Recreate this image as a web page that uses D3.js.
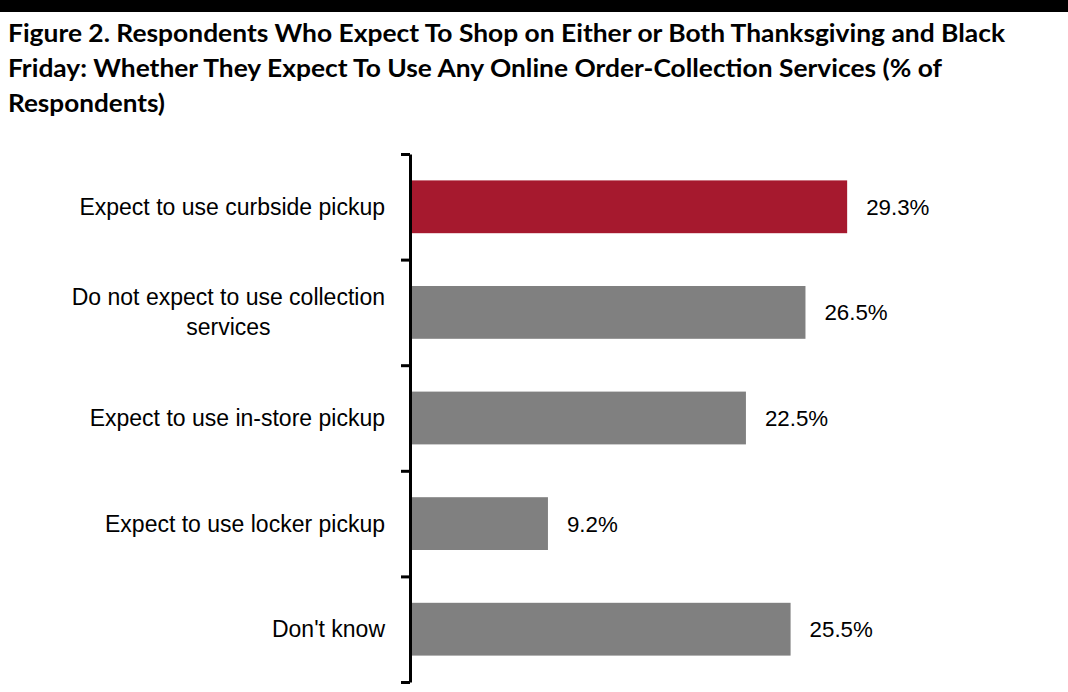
<!DOCTYPE html>
<html><head><meta charset="utf-8">
<script src="https://cdn.jsdelivr.net/npm/d3@7"></script>
<style>
body{margin:0;background:#fff;}
svg{display:block;}
text{font-family:"Liberation Sans", Arial, sans-serif;}
</style></head>
<body>
<svg id="chart" width="1068" height="692"></svg>
<script>
const titleLines = [
  "Figure 2. Respondents Who Expect To Shop on Either or Both Thanksgiving and Black",
  "Friday: Whether They Expect To Use Any Online Order-Collection Services (% of",
  "Respondents)"
];
const categories = [
  ["Expect to use curbside pickup"],
  ["Do not expect to use collection", "services"],
  ["Expect to use in-store pickup"],
  ["Expect to use locker pickup"],
  ["Don't know"]
];
const values = [29.3, 26.5, 22.5, 9.2, 25.5];
const barColors = ["#A6192E", "#808080", "#808080", "#808080", "#808080"];

const svg = d3.select("#chart");
svg.append("rect").attr("x",0).attr("y",0).attr("width",1068).attr("height",12).attr("fill","#000");

const titleWidths = [997, 934, 157];
svg.selectAll("text.title").data(titleLines).join("text")
  .attr("class","title")
  .attr("x",8).attr("y",(d,i)=>42+i*35)
  .attr("font-size",24).attr("font-weight","bold").attr("fill","#000")
  .style("font-family","Lato, 'Liberation Sans', sans-serif")
  .attr("textLength",(d,i)=>titleWidths[i]).attr("lengthAdjust","spacingAndGlyphs")
  .text(d=>d);

const idx = d3.range(categories.length);
const y = d3.scaleBand().domain(idx).range([154,682]).paddingInner(0.5).paddingOuter(0.25);
const x = d3.scaleLinear().domain([0,35]).range([411,932]);

svg.selectAll("rect.bar").data(values).join("rect")
  .attr("class","bar")
  .attr("x",x(0)).attr("y",(d,i)=>y(i))
  .attr("width",d=>x(d)-x(0)).attr("height",y.bandwidth())
  .attr("fill",(d,i)=>barColors[i]);

// axis
const yAxis = d3.axisLeft(d3.scaleLinear().domain([0,categories.length]).range([154,682]))
  .tickValues(d3.range(categories.length+1))
  .tickSize(9).tickSizeOuter(0).tickFormat("");
const ag = svg.append("g").attr("transform","translate(410,0)").call(yAxis);
ag.select(".domain").attr("stroke","#000").attr("stroke-width",3);
ag.selectAll(".tick line").attr("stroke","#000").attr("stroke-width",3);

const fs = 23, vfs = 22.3;

// category labels
const lab = svg.selectAll("g.cat").data(categories).join("g").attr("class","cat");
lab.each(function(lines,i){
  const g = d3.select(this);
  const cy = y(i)+y.bandwidth()/2;
  const n = lines.length;
  const t0 = g.append("text").attr("font-size",fs).attr("fill","#000")
    .attr("text-anchor","end").attr("x",385)
    .attr("y",cy+8-(n-1)*15).text(lines[0]);
  if(n>1){
    const w = t0.node().getComputedTextLength();
    for(let k=1;k<n;k++){
      g.append("text").attr("font-size",fs).attr("fill","#000")
        .attr("text-anchor","middle").attr("x",385-w/2)
        .attr("y",cy+8-(n-1)*15+k*30).text(lines[k]);
    }
  }
});

// value labels
svg.selectAll("text.val").data(values).join("text")
  .attr("class","val")
  .attr("x",d=>x(d)+19).attr("y",(d,i)=>y(i)+y.bandwidth()/2+8)
  .attr("font-size",vfs).attr("fill","#000")
  .text(d=>d.toFixed(1)+"%");
</script>
</body></html>
